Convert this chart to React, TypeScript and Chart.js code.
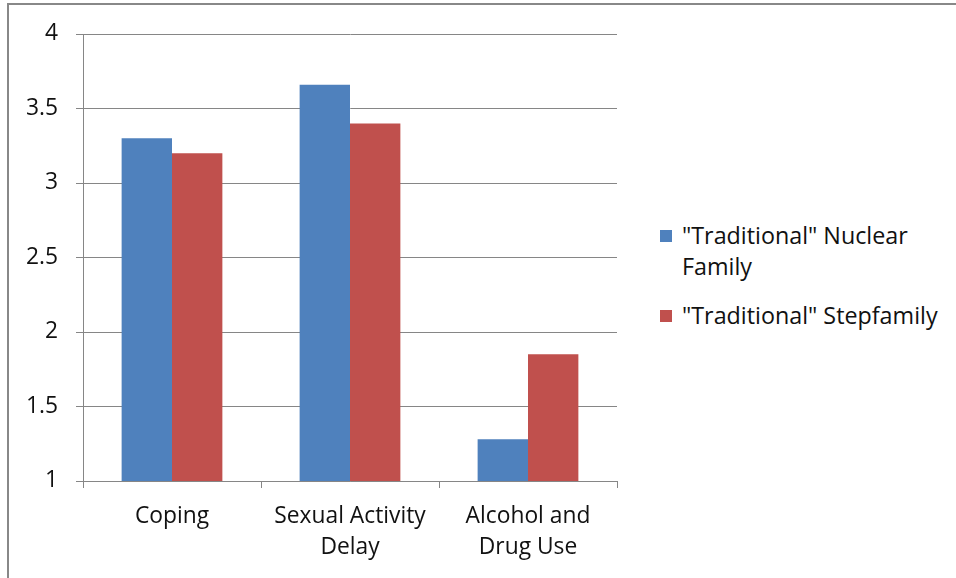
import React, { useEffect, useRef } from "react";
import { Chart, registerables } from "chart.js";

Chart.register(...registerables);

const categories: (string | string[])[] = ["Coping", ["Sexual Activity", "Delay"], ["Alcohol and", "Drug Use"]];
const nuclearValues = [3.3, 3.66, 1.28];
const stepValues = [3.2, 3.4, 1.85];
const seriesNames = ['"Traditional" Nuclear Family', '"Traditional" Stepfamily'];
const seriesColors = ["#4F81BD", "#C0504D"];

const FONT = "'Open Sans', 'Noto Sans', sans-serif";
const FS = 22.8;
const LEGEND_FS = 23.3;

export default function App() {
  const ref = useRef<HTMLCanvasElement>(null);
  useEffect(() => {
    document.body.style.margin = "0";
    const chart = new Chart(ref.current!, {
      type: "bar",
      data: {
        labels: categories,
        datasets: [
          { label: seriesNames[0], data: nuclearValues, backgroundColor: seriesColors[0], categoryPercentage: 0.566, barPercentage: 1 },
          { label: seriesNames[1], data: stepValues, backgroundColor: seriesColors[1], categoryPercentage: 0.566, barPercentage: 1 },
        ],
      },
      options: {
        animation: false,
        responsive: false,
        devicePixelRatio: 1,
        layout: { padding: { left: 0, top: 34, right: 23, bottom: 0 } },
        plugins: { legend: { display: false }, tooltip: { enabled: false } },
        scales: {
          x: {
            grid: { display: true, drawOnChartArea: false, drawTicks: true, tickLength: 7, color: "#868686", offset: true },
            border: { color: "#868686" },
            ticks: { color: "#111", font: { family: FONT, size: FS, lineHeight: 31 / FS }, padding: 13, maxRotation: 0 },
            afterFit: (s: any) => { s.height = 97; },
          },
          y: {
            min: 1,
            max: 4,
            ticks: {
              stepSize: 0.5,
              color: "#111",
              font: { family: FONT, size: FS },
              padding: 18,
              callback: (v: any) => String(Number(v)),
            },
            grid: { color: "#868686", tickLength: 7 },
            border: { color: "#868686" },
            afterFit: (s: any) => { s.width = 83; },
          },
        },
      },
    });
    return () => chart.destroy();
  }, []);

  const legendText: React.CSSProperties = { fontFamily: FONT, fontSize: LEGEND_FS, color: "#111", lineHeight: "31px", whiteSpace: "nowrap" };
  return (
    <div style={{ position: "relative", width: 956, height: 578, overflow: "hidden", background: "#fff" }}>
      <div style={{ position: "absolute", left: 7, top: 3, width: 1000, height: 700, border: "2px solid #888", boxSizing: "border-box" }} />
      <canvas ref={ref} width={640} height={578} style={{ position: "absolute", left: 0, top: 0 }} />
      <div style={{ position: "absolute", left: 660, top: 220 }}>
        <div style={{ display: "flex", alignItems: "flex-start" }}>
          <div style={{ width: 12, height: 12, background: seriesColors[0], marginTop: 10, marginRight: 10 }} />
          <div style={legendText}>"Traditional" Nuclear<br />Family</div>
        </div>
        <div style={{ display: "flex", alignItems: "flex-start", marginTop: 18 }}>
          <div style={{ width: 12, height: 12, background: seriesColors[1], marginTop: 10, marginRight: 10 }} />
          <div style={legendText}>"Traditional" Stepfamily</div>
        </div>
      </div>
    </div>
  );
}
